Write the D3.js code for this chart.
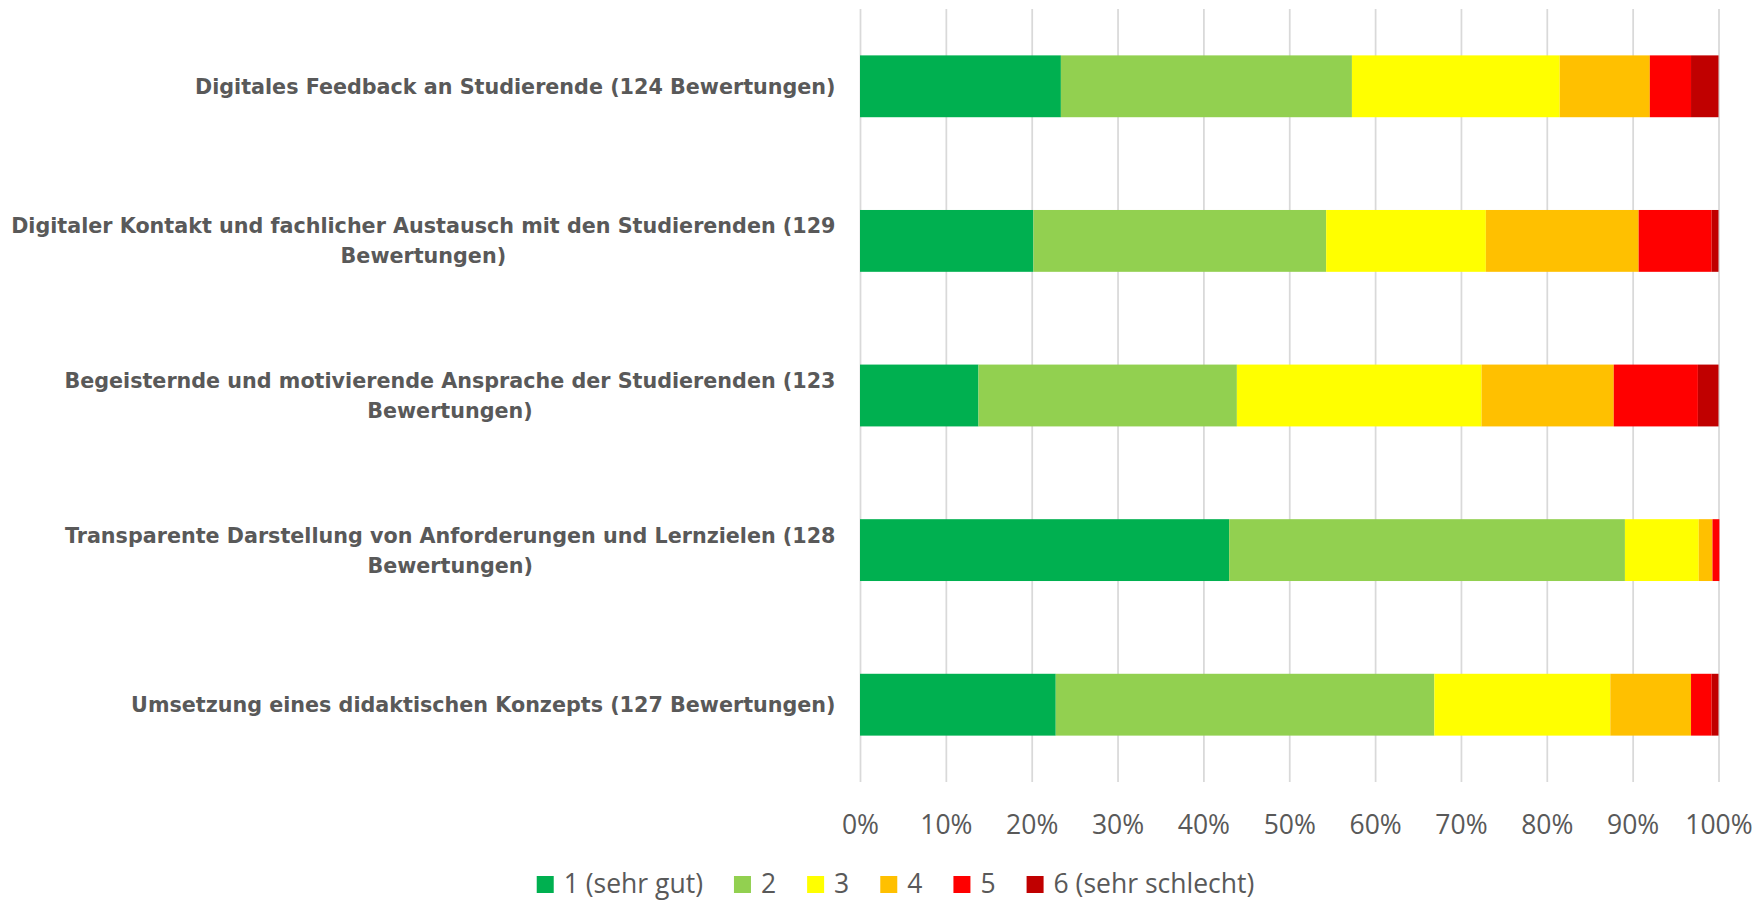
<!DOCTYPE html>
<html>
<head>
<meta charset="utf-8">
<script src="https://cdn.jsdelivr.net/npm/d3@7"></script>
<style>
  body { margin: 0; background: #fff; }
  svg { display: block; }
</style>
</head>
<body>
<div id="chart"></div>
<script>
// categories (top to bottom)
const categories = [
  "Digitales Feedback an Studierende (124 Bewertungen)",
  "Digitaler Kontakt und fachlicher Austausch mit den Studierenden (129 Bewertungen)",
  "Begeisternde und motivierende Ansprache der Studierenden (123 Bewertungen)",
  "Transparente Darstellung von Anforderungen und Lernzielen (128 Bewertungen)",
  "Umsetzung eines didaktischen Konzepts (127 Bewertungen)"
];

// shares in percent, one array per grade, in category order
const grade1 = [23.4, 20.2, 13.8, 43.0, 22.8];
const grade2 = [33.9, 34.1, 30.1, 46.1, 44.1];
const grade3 = [24.2, 18.6, 28.5, 8.6, 20.5];
const grade4 = [10.5, 17.8, 15.4, 1.6, 9.4];
const grade5 = [4.8, 8.5, 9.8, 0.8, 2.4];
const grade6 = [3.2, 0.8, 2.4, 0.0, 0.8];

const seriesNames = ["1 (sehr gut)", "2", "3", "4", "5", "6 (sehr schlecht)"];
const seriesColors = ["#00B050", "#92D050", "#FFFF00", "#FFC000", "#FF0000", "#C00000"];
const tickValues = [0, 0.1, 0.2, 0.3, 0.4, 0.5, 0.6, 0.7, 0.8, 0.9, 1];

const W = 1763, H = 900;
const plot = {left: 860, right: 1718.5, top: 9, bottom: 782};
const textColor = "#595959";

const svg = d3.select("#chart").append("svg")
    .attr("width", W)
    .attr("height", H);

// build rows for the stack
const grades = [grade1, grade2, grade3, grade4, grade5, grade6];
const rows = categories.map((c, i) => {
  const r = {cat: c};
  seriesNames.forEach((s, j) => r[s] = grades[j][i] / 100);
  return r;
});
const stacked = d3.stack().keys(seriesNames)(rows);

const x = d3.scaleLinear().domain([0, 1]).range([plot.left, plot.right]);
const y = d3.scaleBand().domain(categories)
    .range([plot.top, plot.bottom])
    .paddingInner(0.6)
    .paddingOuter(0.3);

// gridlines + tick labels
const axis = svg.append("g")
    .attr("transform", `translate(0,${plot.bottom})`)
    .call(d3.axisBottom(x)
        .tickValues(tickValues)
        .tickFormat(d3.format(".0%"))
        .tickSize(-(plot.bottom - plot.top)));
axis.select(".domain").remove();
axis.selectAll(".tick line")
    .attr("stroke", "#d9d9d9")
    .attr("stroke-width", 1.75);
axis.selectAll(".tick text")
    .attr("y", 52)
    .attr("dy", 0)
    .attr("fill", textColor)
    .style("font-family", "'Open Sans', sans-serif")
    .style("font-size", "26.5px");

// bars
svg.append("g")
  .selectAll("g")
  .data(stacked)
  .join("g")
    .attr("fill", (d, i) => seriesColors[i])
  .selectAll("rect")
  .data(d => d)
  .join("rect")
    .attr("x", d => x(d[0]))
    .attr("y", d => y(d.data.cat))
    .attr("width", d => x(d[1]) - x(d[0]))
    .attr("height", y.bandwidth());

// category labels, wrapped; lines centred within the right-aligned block
const labelRight = 835.5;
const maxWidth = 830;
const lineH = 30;
const labels = svg.append("g")
    .attr("fill", textColor)
    .style("font-family", "'DejaVu Sans', sans-serif")
    .style("font-weight", "bold")
    .style("font-size", "20.7px")
    .attr("text-anchor", "middle");

categories.forEach(c => {
  const probe = labels.append("text");
  const measure = s => probe.text(s).node().getComputedTextLength();
  const words = c.split(" ");
  let lines = [], cur = [];
  words.forEach(w => {
    const test = cur.concat([w]).join(" ");
    if (measure(test) > maxWidth && cur.length) {
      lines.push(cur.join(" "));
      cur = [w];
    } else cur.push(w);
  });
  lines.push(cur.join(" "));
  const blockW = d3.max(lines, measure);
  probe.remove();

  const cx = labelRight - blockW / 2;
  const cy = y(c) + y.bandwidth() / 2;
  const y0 = cy - (lines.length - 1) * lineH / 2;
  const t = labels.append("text");
  lines.forEach((ln, k) => {
    t.append("tspan")
        .attr("x", cx)
        .attr("y", y0 + k * lineH)
        .attr("dy", "0.36em")
        .text(ln);
  });
});

// legend
const legend = svg.append("g")
    .style("font-family", "'Open Sans', sans-serif")
    .style("font-size", "26.5px");
const sq = 17, gapSq = 10, gapItem = 31;
let lx = 0;
seriesNames.forEach((s, i) => {
  const g = legend.append("g").attr("transform", `translate(${lx},0)`);
  g.append("rect")
      .attr("x", 0).attr("y", -sq)
      .attr("width", sq).attr("height", sq)
      .attr("fill", seriesColors[i]);
  const t = g.append("text")
      .attr("x", sq + gapSq)
      .attr("y", 0)
      .attr("fill", textColor)
      .text(s);
  lx += sq + gapSq + t.node().getComputedTextLength() + gapItem;
});
const legendW = lx - gapItem;
legend.attr("transform", `translate(${895.5 - legendW / 2},893)`);
</script>
</body>
</html>
